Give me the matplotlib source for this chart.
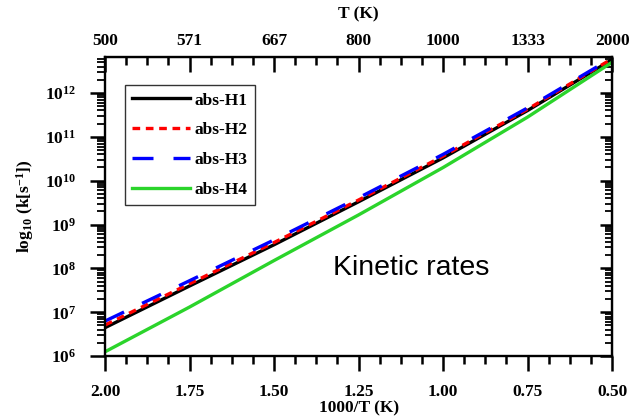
import numpy as np
import matplotlib
matplotlib.use('Agg')
import matplotlib.pyplot as plt
from matplotlib.ticker import FixedLocator, LogLocator, NullFormatter

plt.rcParams['font.family'] = 'Liberation Serif'
plt.rcParams['font.weight'] = 'bold'
plt.rcParams['mathtext.fontset'] = 'custom'
plt.rcParams['mathtext.rm'] = 'Liberation Serif:bold'
plt.rcParams['mathtext.it'] = 'Liberation Serif:bold'
plt.rcParams['mathtext.bf'] = 'Liberation Serif:bold'

# 1000/T positions where values were read
inv_T = [2.00, 1.75, 1.50, 1.25, 1.00, 0.75, 0.50]
# log10 k values
logk_h1 = [6.65, 7.60, 8.54, 9.52, 10.52, 11.60, 12.76]
logk_h2 = [6.71, 7.65, 8.59, 9.56, 10.56, 11.63, 12.78]
logk_h3 = [6.80, 7.72, 8.65, 9.61, 10.60, 11.66, 12.80]
logk_h4 = [6.10, 7.12, 8.18, 9.22, 10.30, 11.45, 12.70]

bottom_ticks = [2.00, 1.75, 1.50, 1.25, 1.00, 0.75, 0.50]
top_labels = ['500', '571', '667', '800', '1000', '1333', '2000']

fig = plt.figure(figsize=(6.33, 4.19), dpi=100)
ax = fig.add_axes([0.166, 0.150, 0.801, 0.714])

lw = 2.4
ax.plot(inv_T, 10 ** np.array(logk_h1), color='black', lw=lw, label='abs-H1')
ax.plot(inv_T, 10 ** np.array(logk_h2), color='#ff0000', lw=lw, dashes=(2.3, 1.7), label='abs-H2')
ax.plot(inv_T, 10 ** np.array(logk_h3), color='#0000ff', lw=lw, dashes=(6.3, 6.0), label='abs-H3')
ax.plot(inv_T, 10 ** np.array(logk_h4), color='#2bd42b', lw=lw, label='abs-H4')

ax.set_yscale('log')
ax.set_xlim(2.0, 0.5)
ax.set_ylim(1e6, 10 ** 12.82)

ax.xaxis.set_major_locator(FixedLocator(bottom_ticks))
ax.xaxis.set_minor_locator(FixedLocator(np.arange(0.5, 2.0001, 0.0625)))
ax.set_xticklabels(['%.2f' % t for t in bottom_ticks])
ax.yaxis.set_major_locator(FixedLocator([10.0 ** e for e in range(6, 13)]))
ax.yaxis.set_minor_locator(LogLocator(base=10, subs=np.arange(2, 10), numticks=20))
ax.yaxis.set_minor_formatter(NullFormatter())
ax.set_yticklabels(['10$^{%d}$' % e for e in range(6, 13)])

for s in ax.spines.values():
    s.set_linewidth(1.7)

ax.tick_params(axis='x', which='major', direction='out', length=11, width=1.8,
               labelsize=12.5, pad=9)
ax.tick_params(axis='x', which='minor', direction='out', length=5.5, width=1.8)
ax.tick_params(axis='y', which='major', direction='out', length=11, width=1.8,
               labelsize=12.5, pad=10)
ax.tick_params(axis='y', which='minor', direction='out', length=5.5, width=1.3)

# right side: inward ticks, no labels
ay = ax.secondary_yaxis('right')
ay.yaxis.set_major_locator(FixedLocator([10.0 ** e for e in range(6, 13)]))
ay.yaxis.set_minor_locator(LogLocator(base=10, subs=np.arange(2, 10), numticks=20))
ay.yaxis.set_minor_formatter(NullFormatter())
ay.tick_params(which='major', direction='in', length=9, width=1.8, labelright=False)
ay.tick_params(which='minor', direction='in', length=5, width=1.3)

# top axis in temperature
at = ax.secondary_xaxis('top')
at.xaxis.set_major_locator(FixedLocator(bottom_ticks))
at.xaxis.set_minor_locator(FixedLocator(np.arange(0.5, 2.0001, 0.0625)))
at.set_xticklabels(top_labels)
at.tick_params(which='major', direction='in', length=11, width=1.8, labelsize=12.5, pad=6)
at.tick_params(which='minor', direction='in', length=5.5, width=1.8)
at.set_xlabel('T (K)', fontsize=12.5, fontweight='bold', labelpad=10)

ax.set_xlabel('1000/T (K)', fontsize=12.5, fontweight='bold', labelpad=0)
ax.set_ylabel('log$_{10}$ (k[s$^{-1}$])', fontsize=12.5, fontweight='bold', labelpad=6)

leg = ax.legend(loc='upper left', bbox_to_anchor=(0.04, 0.905), fancybox=False,
                edgecolor='#333333', framealpha=1, handlelength=3.3, handletextpad=0.3,
                labelspacing=0.78, borderpad=0.4, borderaxespad=0,
                prop={'family': 'Liberation Serif', 'weight': 'bold', 'size': 12.5})
leg.get_frame().set_linewidth(1.0)

ax.text(0.45, 0.27, 'Kinetic rates', transform=ax.transAxes, fontsize=20.5,
        family='Liberation Sans', fontweight='normal', va='baseline', ha='left')

fig.savefig('out.png', dpi=100)
